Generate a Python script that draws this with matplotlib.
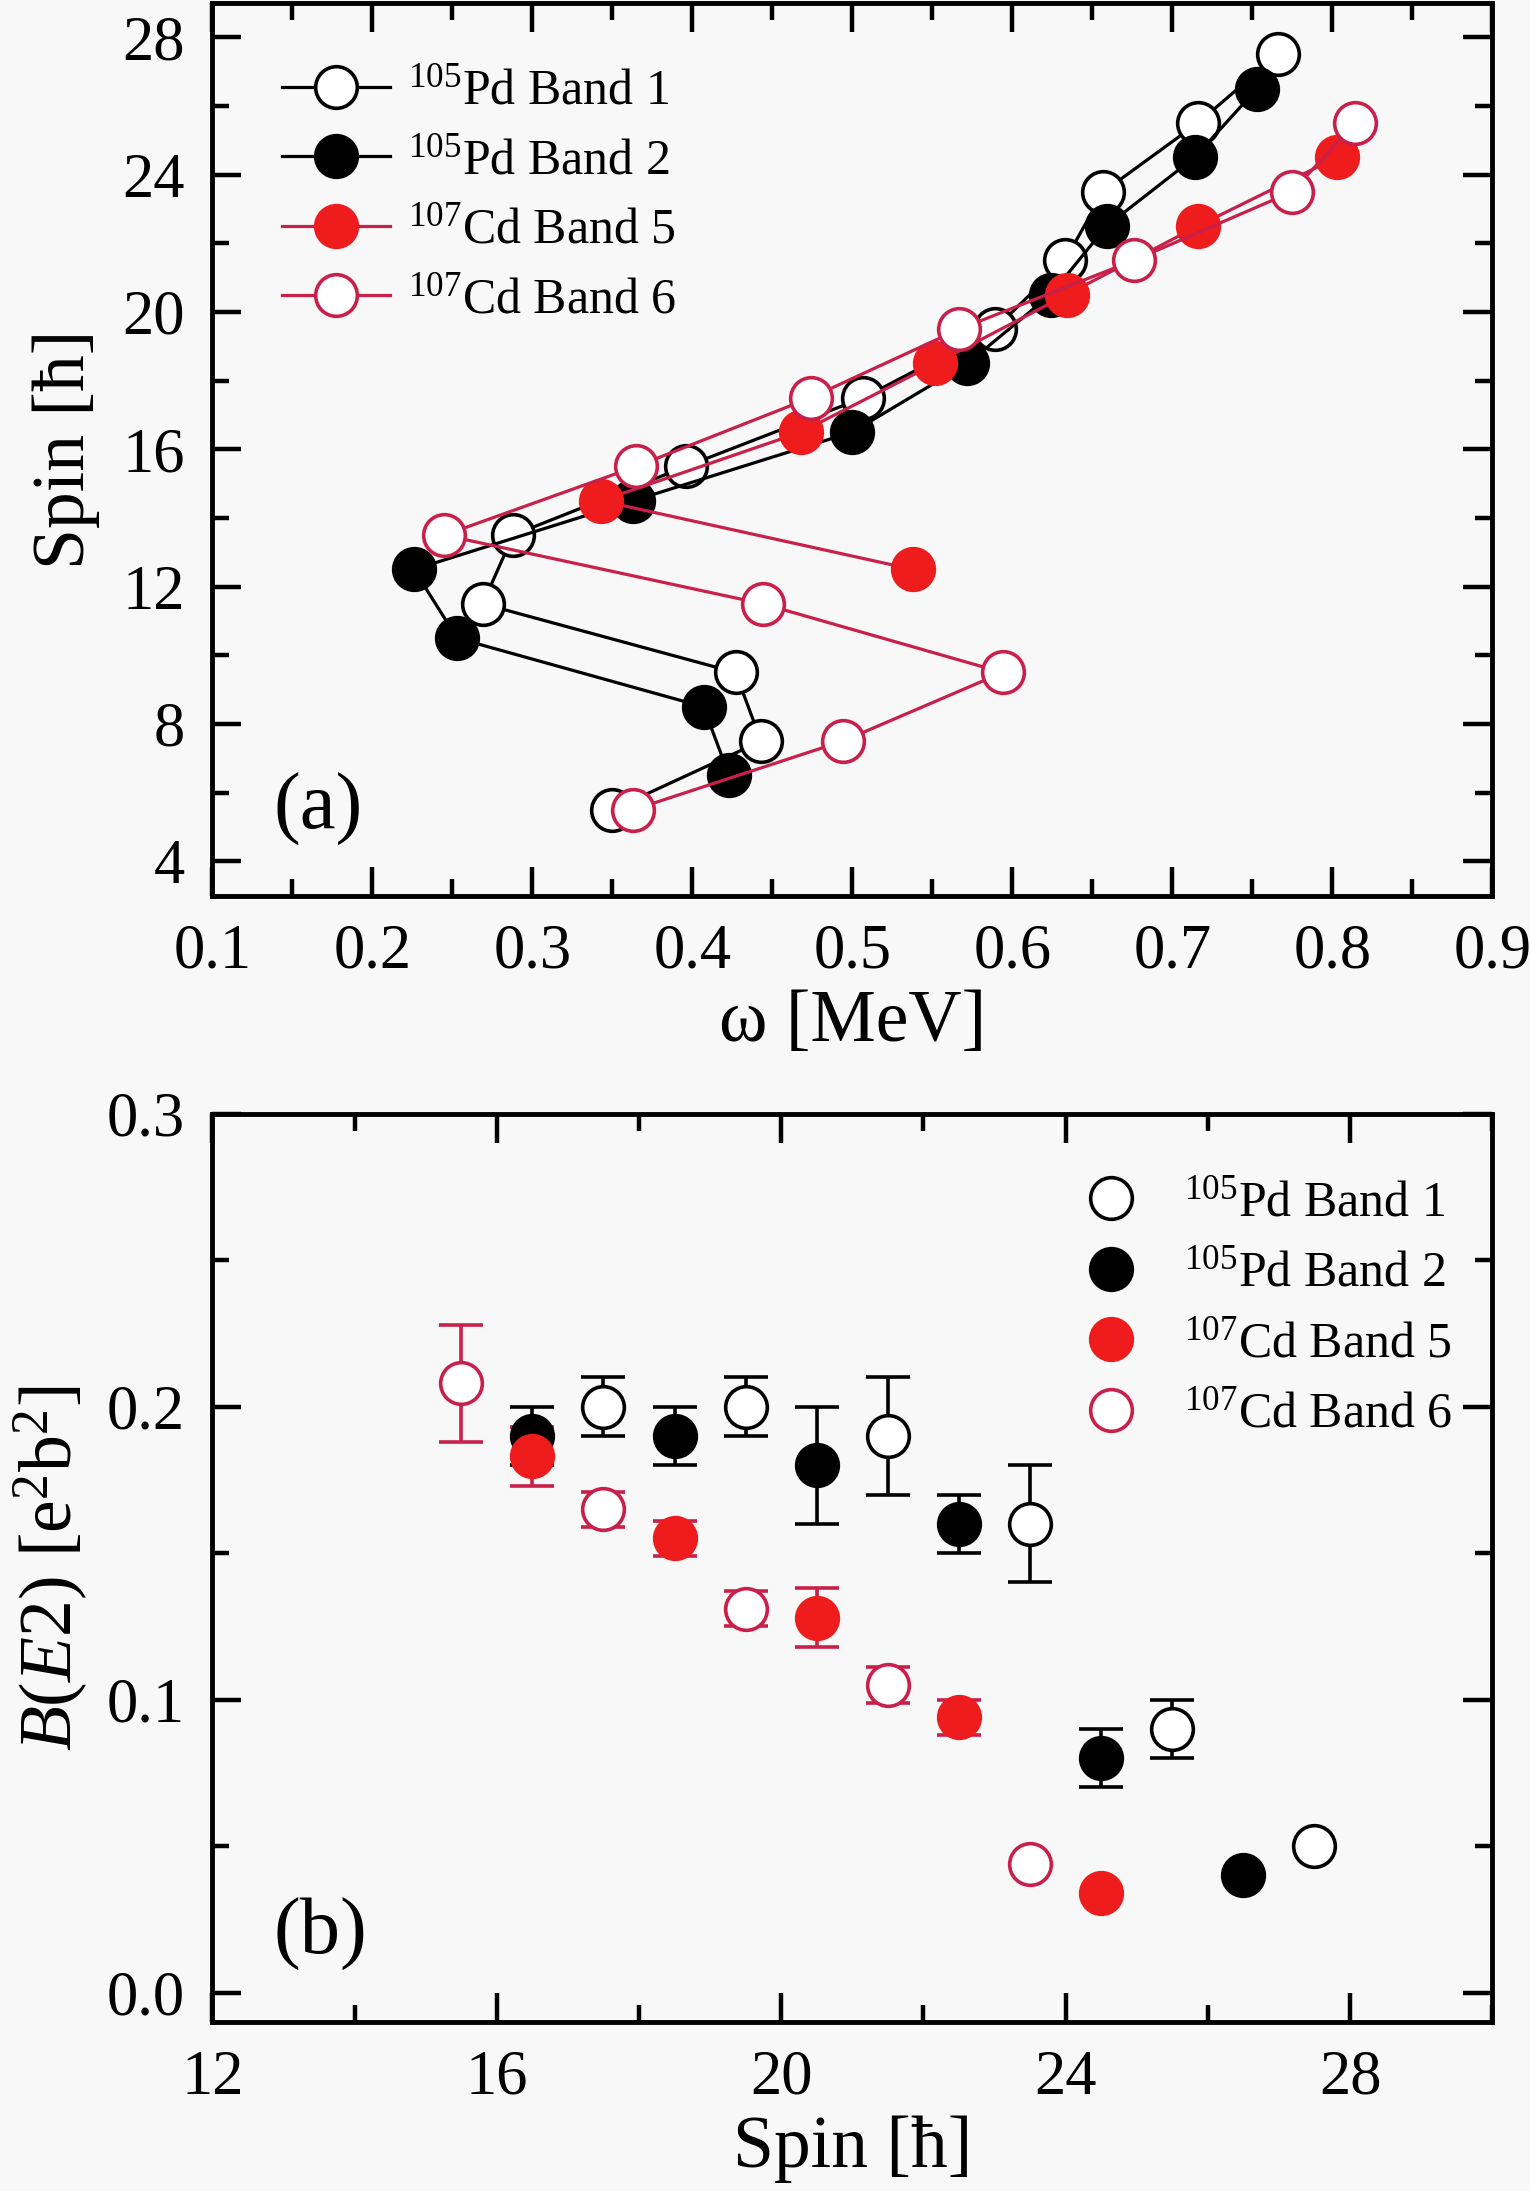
import numpy as np
import matplotlib
matplotlib.use("Agg")
import matplotlib.pyplot as plt
from matplotlib.ticker import MultipleLocator

plt.rcParams['font.family'] = ['Liberation Serif', 'DejaVu Serif']
plt.rcParams['mathtext.fontset'] = 'custom'
plt.rcParams['mathtext.rm'] = 'Liberation Serif'
plt.rcParams['mathtext.it'] = 'Liberation Serif:italic'

# panel (a): spin vs rotational frequency
w_b1 = [0.766, 0.716, 0.657, 0.633, 0.589, 0.507, 0.396, 0.288, 0.269, 0.427, 0.443, 0.350]
i_b1 = [27.5, 25.5, 23.5, 21.5, 19.5, 17.5, 15.5, 13.5, 11.5, 9.5, 7.5, 5.5]
w_b2 = [0.753, 0.714, 0.659, 0.624, 0.572, 0.500, 0.363, 0.226, 0.253, 0.407, 0.423]
i_b2 = [26.5, 24.5, 22.5, 20.5, 18.5, 16.5, 14.5, 12.5, 10.5, 8.5, 6.5]
w_b5 = [0.803, 0.716, 0.634, 0.552, 0.468, 0.343, 0.538]
i_b5 = [24.5, 22.5, 20.5, 18.5, 16.5, 14.5, 12.5]
w_b6 = [0.814, 0.775, 0.676, 0.567, 0.474, 0.365, 0.245, 0.444, 0.594, 0.494, 0.363]
i_b6 = [25.5, 23.5, 21.5, 19.5, 17.5, 15.5, 13.5, 11.5, 9.5, 7.5, 5.5]

# panel (b): B(E2) vs spin
s_b1 = [17.5, 19.5, 21.5, 23.5, 25.5, 27.5]
be_b1 = [0.200, 0.200, 0.190, 0.160, 0.090, 0.050]
er_b1 = [0.010, 0.010, 0.020, 0.020, 0.010, 0.0]
s_b2 = [16.5, 18.5, 20.5, 22.5, 24.5, 26.5]
be_b2 = [0.190, 0.190, 0.180, 0.160, 0.080, 0.040]
er_b2 = [0.010, 0.010, 0.020, 0.010, 0.010, 0.0]
s_b5 = [16.5, 18.5, 20.5, 22.5, 24.5]
be_b5 = [0.183, 0.155, 0.128, 0.094, 0.034]
er_b5 = [0.010, 0.006, 0.010, 0.006, 0.0]
s_b6 = [15.5, 17.5, 19.5, 21.5, 23.5]
be_b6 = [0.208, 0.165, 0.131, 0.105, 0.044]
er_b6 = [0.020, 0.006, 0.006, 0.006, 0.0]

labels = [r'$^{105}$Pd Band 1', r'$^{105}$Pd Band 2',
          r'$^{107}$Cd Band 5', r'$^{107}$Cd Band 6']

BG = '#f8f8f8'
RED = '#ee1c1c'
CRIM = '#c8204a'


def style_axes(ax):
    for sp in ax.spines.values():
        sp.set_linewidth(3.5)
    ax.tick_params(which='both', direction='in', top=True, right=True,
                   labelsize=45, pad=20)
    ax.tick_params(which='major', length=21, width=3.2)
    ax.tick_params(which='minor', length=12, width=3.2)
    ax.set_facecolor(BG)


fig = plt.figure(figsize=(15.3, 21.91), dpi=100, facecolor=BG)
ax1 = fig.add_axes([0.1388, 0.5912, 0.8365, 0.4075])
ax2 = fig.add_axes([0.1388, 0.0772, 0.8365, 0.4145])

ms = 30
mew = 2.6
lw = 2.3
ax1.plot(w_b1, i_b1, '-o', color='black', mfc='white', mec='black', ms=ms, mew=mew, lw=lw, label=labels[0])
ax1.plot(w_b2, i_b2, '-o', color='black', mfc='black', mec='black', ms=ms, mew=mew, lw=lw, label=labels[1])
ax1.plot(w_b5, i_b5, '-o', color=CRIM, mfc=RED, mec=RED, ms=ms, mew=mew, lw=lw, label=labels[2])
ax1.plot(w_b6, i_b6, '-o', color=CRIM, mfc='white', mec=CRIM, ms=ms, mew=mew, lw=lw, label=labels[3])

ax1.set_xlim(0.1, 0.9)
ax1.set_ylim(3, 29)
ax1.xaxis.set_major_locator(MultipleLocator(0.1))
ax1.xaxis.set_minor_locator(MultipleLocator(0.05))
ax1.yaxis.set_major_locator(MultipleLocator(4))
ax1.yaxis.set_minor_locator(MultipleLocator(2))
ax1.set_xticks(np.arange(0.1, 0.95, 0.1))
ax1.set_xticklabels([f'{v:.1f}' for v in np.arange(0.1, 0.95, 0.1)])
style_axes(ax1)
ax1.set_xlabel(u'\u03c9 [MeV]', fontsize=53, labelpad=6)
ax1.set_ylabel(u'Spin [\u0127]', fontsize=53, labelpad=16)
ax1.text(0.048, 0.075, '(a)', transform=ax1.transAxes, fontsize=58)
ax1.legend(loc='upper left', bbox_to_anchor=(0.031, 0.96), frameon=False, fontsize=36,
           handlelength=2.15, handletextpad=0.36, labelspacing=0.46, borderaxespad=0.2)

ekw = dict(fmt='o', ms=ms, mew=mew, capsize=16, capthick=2.6, elinewidth=2.6)
ax2.errorbar(s_b1, be_b1, yerr=er_b1, mfc='white', mec='black', ecolor='black', color='black', label=labels[0], **ekw)
ax2.errorbar(s_b2, be_b2, yerr=er_b2, mfc='black', mec='black', ecolor='black', color='black', label=labels[1], **ekw)
ax2.errorbar(s_b5, be_b5, yerr=er_b5, mfc=RED, mec=RED, ecolor=CRIM, color=RED, label=labels[2], **ekw)
ax2.errorbar(s_b6, be_b6, yerr=er_b6, mfc='white', mec=CRIM, ecolor=CRIM, color=CRIM, label=labels[3], **ekw)

ax2.set_xlim(12, 30)
ax2.set_ylim(-0.01, 0.3)
ax2.xaxis.set_major_locator(MultipleLocator(4))
ax2.xaxis.set_minor_locator(MultipleLocator(2))
ax2.yaxis.set_major_locator(MultipleLocator(0.1))
ax2.yaxis.set_minor_locator(MultipleLocator(0.05))
ax2.set_yticks([0.0, 0.1, 0.2, 0.3])
ax2.set_yticklabels(['0.0', '0.1', '0.2', '0.3'])
style_axes(ax2)
ax2.set_xlabel(u'Spin [\u0127]', fontsize=53, labelpad=6)
ax2.set_ylabel(r'$B$($E$2) [e$^2$b$^2$]', fontsize=53, labelpad=12)
ax2.text(0.048, 0.075, '(b)', transform=ax2.transAxes, fontsize=58)
h, l = ax2.get_legend_handles_labels()
h = [x[0] for x in h]
ax2.legend(h, l, loc='upper right', bbox_to_anchor=(0.992, 0.96), frameon=False, fontsize=36,
           handlelength=1.2, handletextpad=0.85, labelspacing=0.48, borderaxespad=0.2)

fig.savefig('out.png', dpi=100, facecolor=BG)
